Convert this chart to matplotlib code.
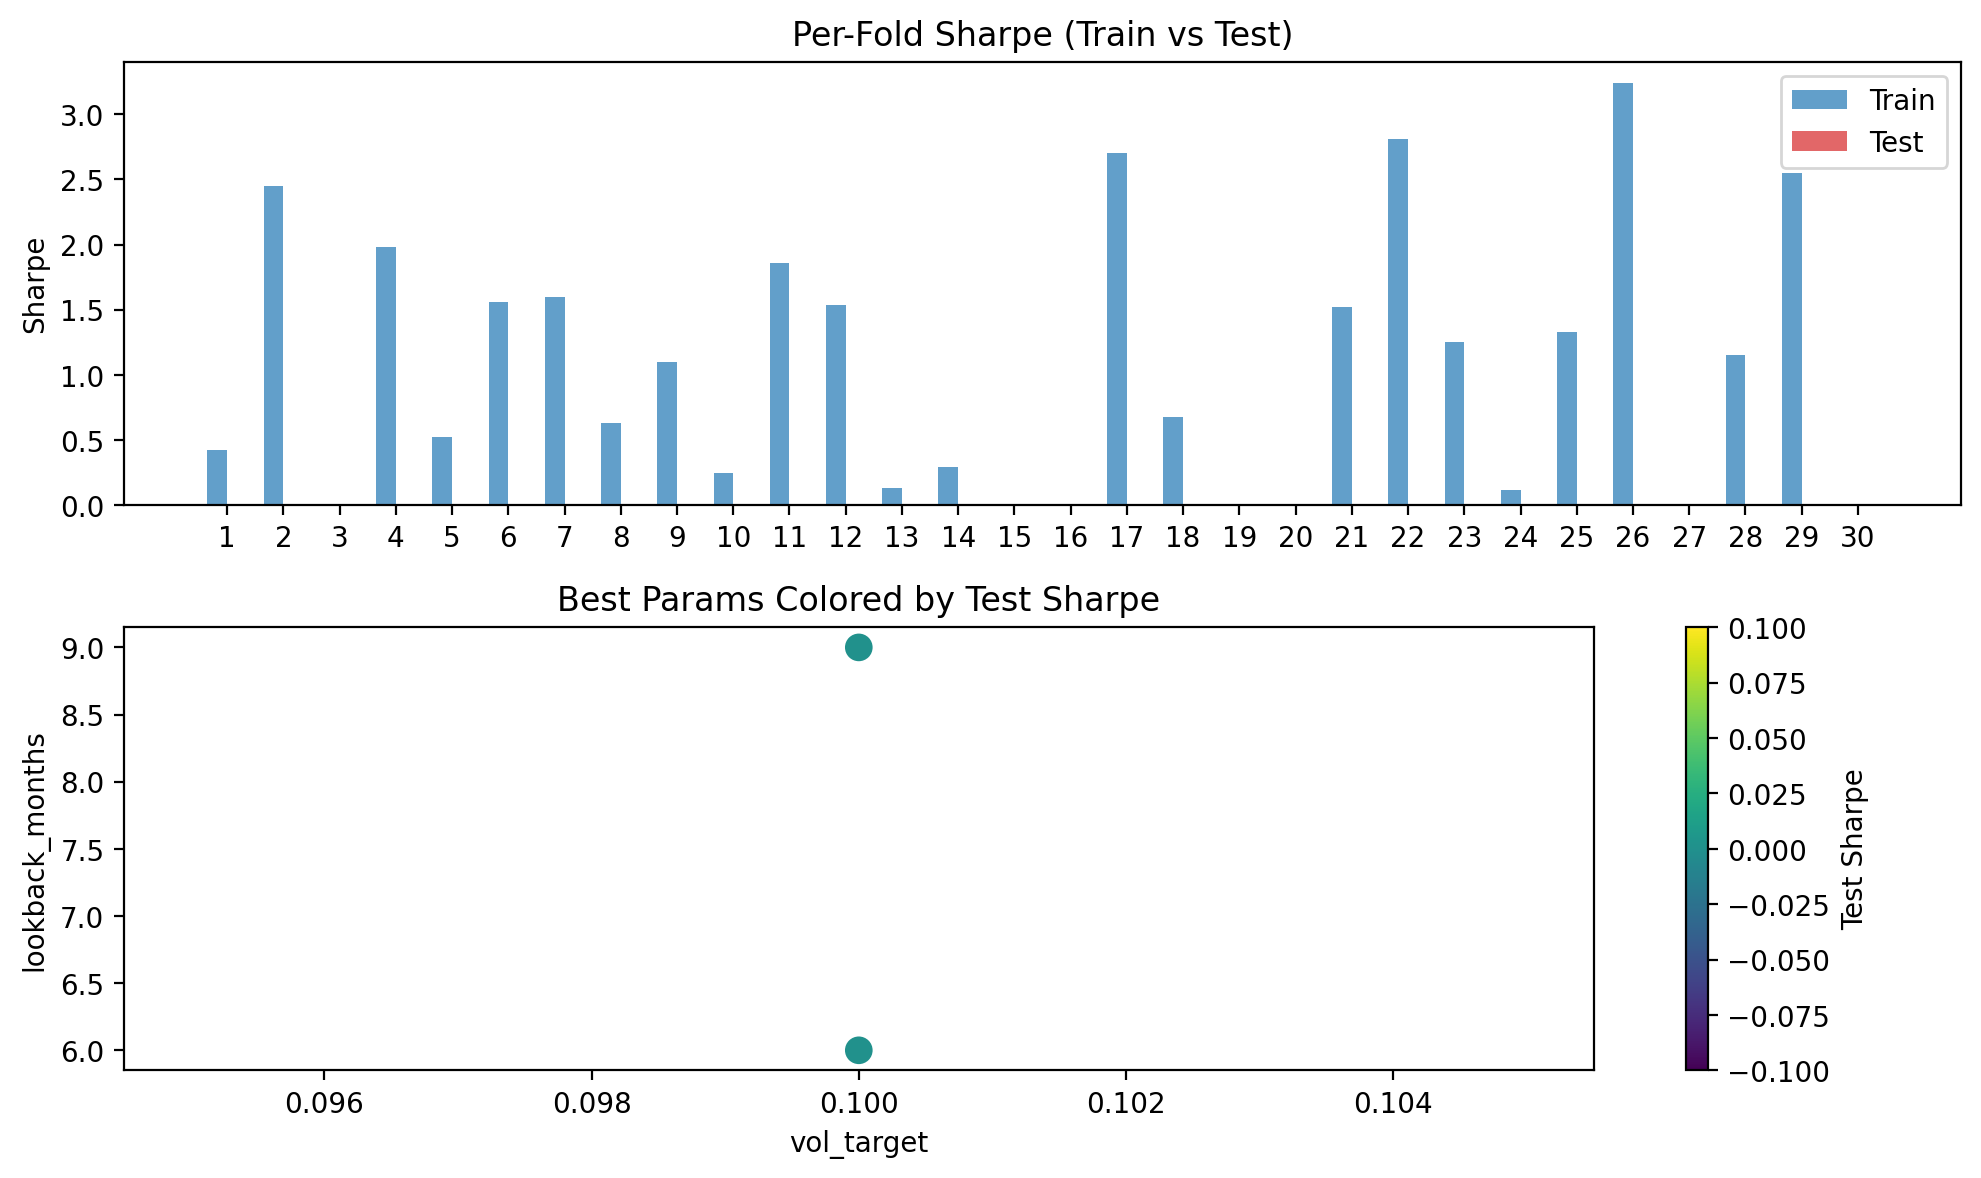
import numpy as np
import matplotlib
matplotlib.use("Agg")
import matplotlib.pyplot as plt
from matplotlib.ticker import MultipleLocator

folds = list(range(1, 31))
train_sharpe = [0.42, 2.45, 0.0, 1.98, 0.52, 1.56, 1.60, 0.63, 1.10, 0.25,
                1.86, 1.54, 0.13, 0.29, 0.0, 0.0, 2.70, 0.68, 0.0, 0.0,
                1.52, 2.81, 1.25, 0.12, 1.33, 3.24, 0.0, 1.15, 2.55, 0.0]
test_sharpe = [0.0] * 30

best_vol_target = [0.1, 0.1]
best_lookback = [9, 6]
best_test_sharpe = [0.0, 0.0]

fig, axes = plt.subplots(2, 1, figsize=(10, 6))

x = np.array(folds)
width = 0.35
axes[0].bar(x - width / 2, train_sharpe, width, label="Train", color="tab:blue", alpha=0.7)
axes[0].bar(x + width / 2, test_sharpe, width, label="Test", color="tab:red", alpha=0.7)
axes[0].set_xticks(x)
axes[0].set_ylabel("Sharpe")
axes[0].set_title("Per-Fold Sharpe (Train vs Test)")
axes[0].legend()

sc = axes[1].scatter(best_vol_target, best_lookback, c=best_test_sharpe, cmap="viridis", s=80)
axes[1].set_xlabel("vol_target")
axes[1].set_ylabel("lookback_months")
axes[1].set_title("Best Params Colored by Test Sharpe")
cbar = fig.colorbar(sc, ax=axes[1])
cbar.set_label("Test Sharpe")
cbar.ax.yaxis.set_major_locator(MultipleLocator(0.025))

plt.tight_layout()
plt.savefig("out.png", dpi=200, bbox_inches="tight")
plt.close()
